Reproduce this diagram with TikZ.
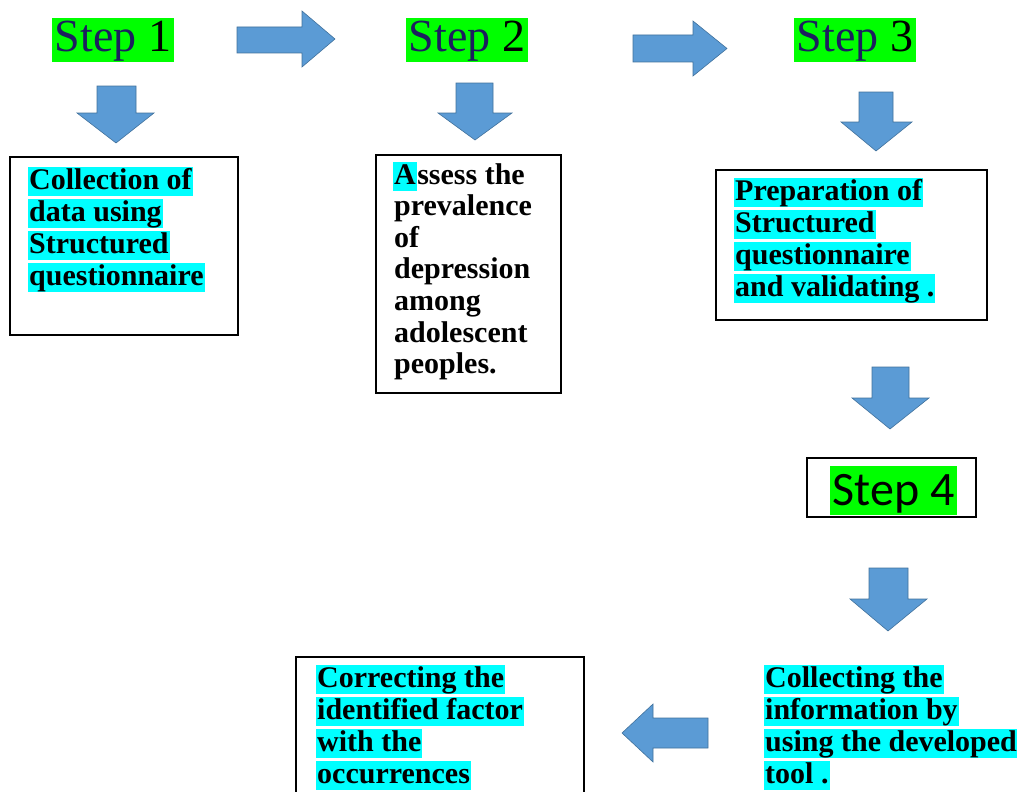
\documentclass[tikz,border=0pt]{standalone}
\usepackage{fontspec}
\setmainfont{Liberation Serif}
\newfontfamily\stepsans{Carlito}
\definecolor{stepgreen}{HTML}{00FF00}
\definecolor{stepnavy}{HTML}{1C1F5E}
\definecolor{hlcyan}{HTML}{00FFFF}
\definecolor{arrowblue}{HTML}{5B9BD5}
\definecolor{arrowedge}{HTML}{41719C}
\tikzset{
  stepbox/.style={fill=stepgreen,inner sep=0pt,inner xsep=3pt,text height=34pt,text depth=10pt,
    anchor=base,font=\fontsize{46}{50}\selectfont},
  framebox/.style={draw,line width=1.2pt,inner sep=0pt},
  hl/.style={fill=hlcyan,inner sep=0pt,inner xsep=1pt,text height=22pt,text depth=7pt,
    anchor=base west,font=\bfseries\fontsize{30}{32}\selectfont},
  plainline/.style={hl,fill=none},
  blockarrow/.style={fill=arrowblue,draw=arrowedge,line width=0.6pt,line join=miter}
}
\begin{document}
\begin{tikzpicture}[x=1pt,y=-1pt]
	\useasboundingbox (0,0) rectangle (1017,792);
	
	% step labels
	\node[stepbox] (step1) at (113,52) {\textcolor{stepnavy}{Step} 1};
	\node[stepbox] (step2) at (467,52) {\textcolor{stepnavy}{Step} 2};
	\node[stepbox] (step3) at (855,52) {\textcolor{stepnavy}{Step} 3};
	
	% arrows between steps
	\draw[blockarrow] (237,27) -- (302,27) -- (302,11) -- (335,39) -- (302,67) -- (302,53) -- (237,53) -- cycle;
	\draw[blockarrow] (633,35) -- (693,35) -- (693,21) -- (727,48.5) -- (693,76) -- (693,62) -- (633,62) -- cycle;
	
	% arrows down from steps
	\draw[blockarrow] (97,86) -- (136,86) -- (136,113) -- (154,113) -- (116,143) -- (77,113) -- (97,113) -- cycle;
	\draw[blockarrow] (456,83) -- (493,83) -- (493,113) -- (512,113) -- (475,140) -- (438,113) -- (456,113) -- cycle;
	\draw[blockarrow] (859,92) -- (893,92) -- (893,122) -- (912,122) -- (876,151) -- (841,122) -- (859,122) -- cycle;
	
	% box for step 1
	\node[framebox,minimum width=228pt,minimum height=178pt] (box1) at (124,246) {};
	\foreach \t [count=\i] in {Collection of,data using,Structured,questionnaire}
	{
		\node[hl] (s1-\i) at (28,{157+32*\i}) {\t};
	}
	
	% box for step 2
	\node[framebox,minimum width=185pt,minimum height=238pt] (box2) at (468.5,274) {};
	\node[hl] (s2-a) at (393,184) {A};
	\node[plainline,inner xsep=0pt] (s2-1) at (s2-a.base east) {ssess the};
	\foreach \t [count=\i from 2] in {prevalence,of,depression,among,adolescent,peoples.}
	{
		\node[plainline] (s2-\i) at (393,{152+31.7*\i}) {\t};
	}
	
	% box for step 3
	\node[framebox,minimum width=271pt,minimum height=150pt] (box3) at (851.5,245) {};
	\foreach \t [count=\i] in {Preparation of,Structured,questionnaire,and validating .}
	{
		\node[hl] (s3-\i) at (734,{168+32*\i}) {\t};
	}
	
	% step 4
	\draw[blockarrow] (872,367) -- (909,367) -- (909,398) -- (929,398) -- (890,429) -- (852,398) -- (872,398) -- cycle;
	\node[framebox,minimum width=169pt,minimum height=59pt] (box4) at (891.5,487.5) {};
	\node[stepbox,font=\stepsans\fontsize{48}{52}\selectfont,text height=39pt,text depth=10pt] (step4) at (893.5,505) {Step 4};
	\draw[blockarrow] (869,568) -- (908,568) -- (908,599) -- (927,599) -- (888,631) -- (850,599) -- (869,599) -- cycle;
	
	% collecting the information
	\foreach \t [count=\i] in {Collecting the,information by,using the developed,tool .}
	{
		\node[hl] (s5-\i) at (764,{655+32*\i}) {\t};
	}
	
	% arrow to last box
	\draw[blockarrow] (708,718) -- (653,718) -- (653,704) -- (622,733) -- (653,762) -- (653,748) -- (708,748) -- cycle;
	
	% last box, open at the bottom
	\draw[line width=1.2pt] (296,795) -- (296,657) -- (584,657) -- (584,795);
	\foreach \t [count=\i] in {Correcting the,identified factor,with the,occurrences}
	{
		\node[hl] (s6-\i) at (316,{655+32*\i}) {\t};
	}
\end{tikzpicture}
\end{document}
